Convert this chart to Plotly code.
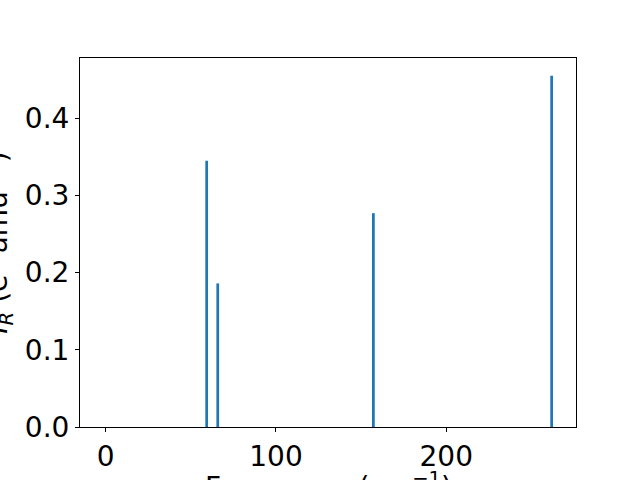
import plotly.graph_objects as go

frequencies = [59.3, 65.8, 157.2, 261.9]
intensities = [0.345, 0.186, 0.277, 0.455]
x_ticks = [0, 100, 200]
y_ticks = [0.0, 0.1, 0.2, 0.3, 0.4]
y_tick_text = ["0.0", "0.1", "0.2", "0.3", "0.4"]
x_title = "Frequency (cm<sup>−1</sup>)"
y_title = "<i>I</i><sub><i>R</i></sub> (e<sup>2</sup> amu<sup>−1</sup>)"

fig = go.Figure(go.Bar(x=frequencies, y=intensities, width=1.6,
                       marker=dict(color="#1f77b4", line=dict(width=0))))

font = dict(family="DejaVu Sans", size=28, color="black")
fig.update_layout(
    width=640, height=480,
    margin=dict(l=80, r=64, t=58, b=53),
    paper_bgcolor="white", plot_bgcolor="white",
    font=font, showlegend=False,
    xaxis=dict(range=[-15.1, 276.2], tickvals=x_ticks, ticks="outside", ticklen=4,
               tickcolor="black", showline=True, linecolor="black", linewidth=1,
               mirror=True, showgrid=False, zeroline=False, automargin=False),
    yaxis=dict(range=[0, 0.478], tickvals=y_ticks, ticktext=y_tick_text, ticks="outside",
               ticklen=4, tickcolor="black", showline=True, linecolor="black", linewidth=1,
               mirror=True, showgrid=False, zeroline=False, automargin=False),
    annotations=[
        dict(text=x_title, xref="paper", yref="paper", x=0.5, y=0, xanchor="center",
             yanchor="top", yshift=-38, showarrow=False, font=font),
        dict(text=y_title, xref="paper", yref="paper", x=-0.165, y=0.5, xanchor="center",
             yanchor="middle", textangle=-90, showarrow=False, font=font),
    ],
)
fig.write_html("out.html", config={"displayModeBar": False},
               post_script="document.body.style.margin='0';document.body.style.overflow='hidden';")
